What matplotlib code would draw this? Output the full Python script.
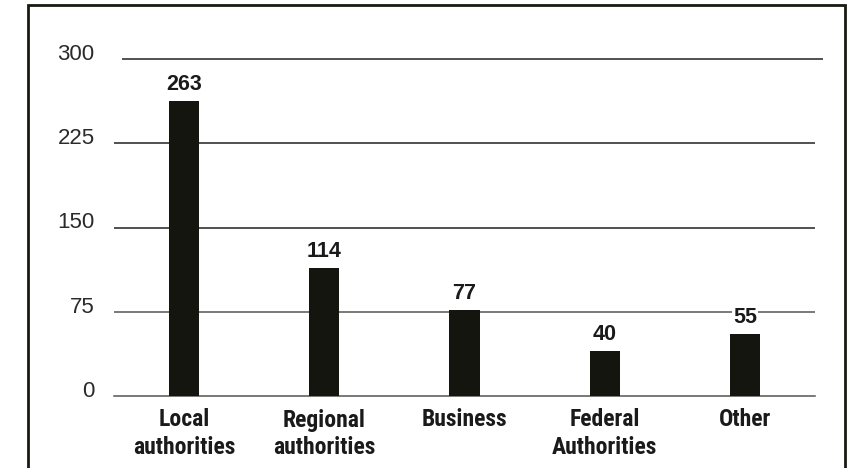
import matplotlib.pyplot as plt
import matplotlib.patches as patches
import matplotlib.font_manager as fm
from matplotlib.transforms import ScaledTranslation

categories = ['Local\nauthorities', 'Regional\nauthorities', 'Business',
              'Federal\nAuthorities', 'Other']
values = [263, 114, 77, 40, 55]
y_ticks = [0, 75, 150, 225, 300]

bar_color = '#15150f'
plain = ['Liberation Sans', 'DejaVu Sans']


def pick_condensed_bold():
    # look for a narrow / condensed bold face among installed fonts
    cands = []
    for f in fm.fontManager.ttflist:
        w = f.weight if isinstance(f.weight, int) else 400
        if str(f.weight) in ('bold', '700'):
            w = 700
        narrow = ('Narrow' in f.name or 'Condensed' in f.name
                  or 'ondensed' in f.fname or 'Narrow' in f.fname
                  or f.stretch in ('condensed', 'semi-condensed', 'extra-condensed'))
        if narrow and w >= 600 and 'Oblique' not in f.fname and 'Italic' not in f.fname:
            cands.append(f)
    order = ['Liberation Sans Narrow', 'Roboto Condensed', 'DejaVu Sans', 'Open Sans']
    for nm in order:
        for f in cands:
            if f.name == nm:
                return fm.FontProperties(fname=f.fname), f.name
    if cands:
        return fm.FontProperties(fname=cands[0].fname), cands[0].name
    return fm.FontProperties(family='DejaVu Sans', weight='bold'), 'fallback'


cat_font, cat_name = pick_condensed_bold()
cat_size = 17 if cat_name != 'fallback' else 13.5

fig = plt.figure(figsize=(8.61, 4.68), dpi=100)
ax = fig.add_axes([114 / 861, 72 / 468, 701 / 861, 337 / 468])

x = list(range(len(categories)))
ax.bar(x, values, width=0.215, color=bar_color, zorder=3)

ax.set_xlim(-0.5, 4.5)
ax.set_ylim(0, 300)

# gridlines, drawn by hand: the top one is shifted a little to the right
ytr = ax.get_yaxis_transform()
for yv in y_ticks[1:]:
    x0, x1 = (0.0114, 1.0107) if yv == y_ticks[-1] else (0.0, 1.0)
    col = '#555550' if yv == y_ticks[1] else '#222220'
    ax.plot([x0, x1], [yv, yv], transform=ytr, color=col, linewidth=1.1,
            zorder=1, clip_on=False, solid_capstyle='butt')

for s in ['top', 'right', 'left']:
    ax.spines[s].set_visible(False)
ax.spines['bottom'].set_color('#555550')
ax.spines['bottom'].set_linewidth(1.1)

ax.set_yticks(y_ticks)
ax.tick_params(axis='y', length=0, pad=14, labelsize=16, labelcolor='#2a2a2a')
for lab in ax.get_yticklabels():
    lab.set_family(plain)
    lab.set_transform(lab.get_transform() + ScaledTranslation(0, 7 / 100, fig.dpi_scale_trans))

ax.set_xticks(x)
ax.set_xticklabels(categories, linespacing=1.25, color='#1a1a1a')
for lab in ax.get_xticklabels():
    lab.set_fontproperties(cat_font)
    lab.set_fontsize(cat_size)
ax.tick_params(axis='x', length=0, pad=9)

# value labels
for xi, v in zip(x, values):
    t = ax.text(xi, v, str(v), ha='center', va='baseline', fontsize=15.5,
                fontweight='bold', family=plain, color='#1a1a1a', zorder=4,
                bbox=dict(facecolor='white', edgecolor='none', pad=0.5))
    t.set_transform(ax.transData + ScaledTranslation(0, 11 / 100, fig.dpi_scale_trans))

# frame around the chart
frame = patches.Rectangle((28 / 861, -0.05), (845 - 28) / 861, 1.05 - 5 / 468,
                          transform=fig.transFigure, fill=False,
                          edgecolor='#1a1a14', linewidth=2.0, clip_on=False)
fig.patches.append(frame)

fig.savefig('out.png', dpi=100)
